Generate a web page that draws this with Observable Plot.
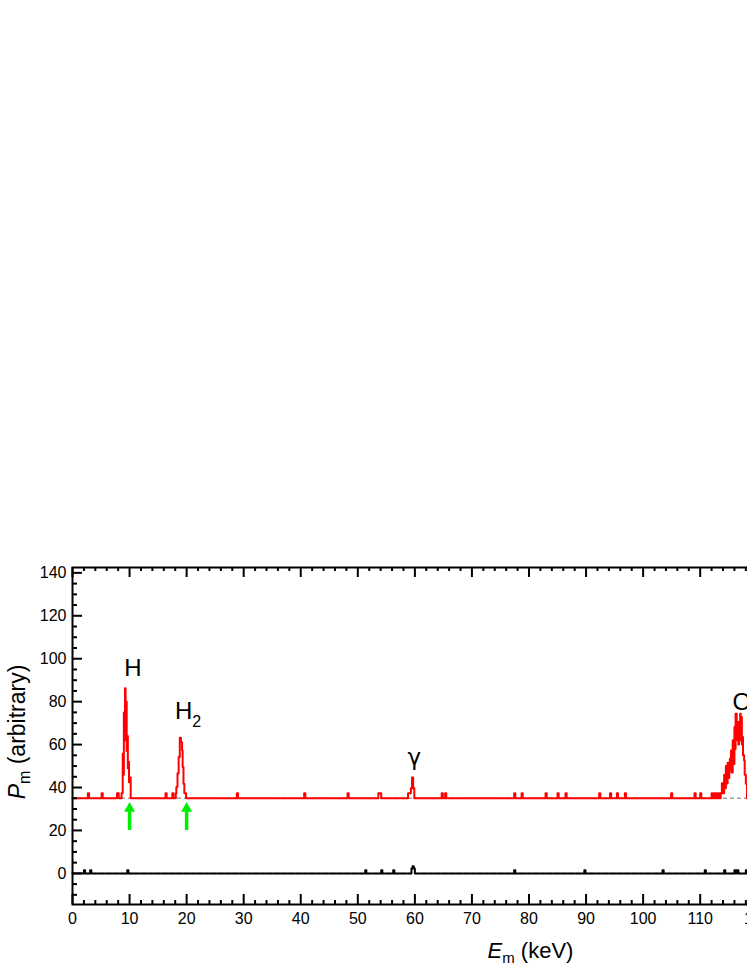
<!DOCTYPE html>
<html><head><meta charset="utf-8">
<script src="https://cdn.jsdelivr.net/npm/d3@7"></script>
<script src="https://cdn.jsdelivr.net/npm/@observablehq/plot@0.6"></script>
<style>
html,body{margin:0;padding:0;overflow:hidden;background:#fff;}
#chart{width:747px;height:967px;overflow:hidden;}
#chart svg{max-width:none !important;height:967px !important;width:1005px !important;display:block;}
</style></head><body><div id="chart"></div>
<script>
// ---- data ----
// red spectrum: step points (bin start energy in keV, P_m value), baseline 35
const redEnergy = [0, 2.7, 2.9, 5.1, 5.3, 7.8, 8.1,
  8.6, 8.8, 8.9, 9.0, 9.1, 9.2, 9.3, 9.4, 9.5, 9.6, 9.7, 9.8, 9.9, 10.0, 10.2,
  16.3, 16.5, 17.5, 17.7,
  18.1, 18.2, 18.4, 18.6, 18.8, 19.0, 19.2, 19.3, 19.45, 19.6, 19.9,
  28.8, 29.0, 40.6, 40.8, 48.2, 48.4, 53.6, 54.1,
  58.8, 59.3, 59.5, 59.7, 59.9,
  64.7, 64.9, 65.3, 65.5, 77.4, 77.6, 78.7, 78.9, 82.9, 83.1, 85.0, 85.2, 86.4, 86.6,
  92.3, 92.5, 94.2, 94.4, 95.4, 95.6, 96.8, 97.0, 104.9, 105.1, 109.0, 109.2, 110.0, 110.2,
  112.0, 112.2, 112.5, 112.7, 112.9, 113.1, 113.3, 113.5, 113.6,
  113.8, 114.0, 114.2, 114.3, 114.5, 114.6, 114.8, 114.9, 115.1, 115.2, 115.4, 115.5,
  115.7, 115.8, 116.0, 116.1, 116.2, 116.4, 116.5, 116.7, 116.8, 116.9, 117.0, 117.1,
  117.2, 117.3, 117.4, 117.5, 117.7, 117.8, 118.0, 118.2, 160];
const redSignal = [35, 37.3, 35, 37.3, 35, 37.3, 35,
  37.3, 55.7, 46, 75, 62, 86.2, 74, 80, 57, 64, 49, 52, 42.5, 44.7, 35,
  37.3, 35, 37.3, 35,
  37.3, 40.2, 46.6, 54.2, 63.2, 61.1, 57.3, 49.5, 41.8, 37.3, 35,
  37.3, 35, 37.3, 35, 37.3, 35, 37.3, 35,
  37.3, 39.7, 44.7, 39.7, 35,
  37.3, 35, 37.3, 35, 37.3, 35, 37.3, 35, 37.3, 35, 37.3, 35, 37.3, 35,
  37.3, 35, 37.3, 35, 37.3, 35, 37.3, 35, 37.3, 35, 37.3, 35, 37.3, 35,
  37.3, 35, 37.3, 35, 37.3, 35, 37.3, 35, 37.3,
  42, 37.3, 46, 39.7, 50, 41.9, 51.5, 44.4, 48, 53.4, 57.3, 47,
  62, 51, 68.2, 58, 74.4, 62, 70.5, 60, 67.4, 62, 74.4, 64,
  72.8, 60, 63.5, 55, 52.6, 46, 41.7, 35, 35];

// black spectrum: step points, baseline 0
const blackEnergy = [0, 2.0, 2.2, 3.1, 3.3, 9.6, 9.8, 51.3, 51.5, 54.1, 54.3, 56.2, 56.4,
  59.4, 59.6, 59.8, 60.0, 77.4, 77.6, 89.7, 89.9, 103.4, 103.6, 110.8, 111.0,
  114.2, 114.4, 116.0, 116.2, 116.4, 116.7, 118.0, 118.2, 160];
const blackSignal = [0, 1.4, 0, 1.4, 0, 1.4, 0, 1.4, 0, 1.4, 0, 1.4, 0,
  2.3, 3.3, 2.3, 0, 1.4, 0, 1.4, 0, 1.4, 0, 1.4, 0,
  1.4, 0, 1.4, 0, 1.4, 0, 1.4, 0, 0];

const baselines = [35, 0];

// peak annotations
const peakNames = ["H", "H", "γ", "O"];
const peakLabelE = [10.6, 19.5, 59.9, 117.3];
const peakLabelP = [91.8, 72.0, 50.5, 76.1];
const peakFonts = ["'Liberation Sans', Arial, sans-serif", "'Liberation Sans', Arial, sans-serif", "'DejaVu Sans', sans-serif", "'Liberation Sans', Arial, sans-serif"];
const subscriptText = ["2"];
const subscriptE = [21.0];
const subscriptP = [68.4];

// green arrows (energy, from, to)
const arrowE = [10, 20];
const arrowFrom = 20;
const arrowTo = 33.2;

// axes
const xDomain = [0, 160];
const yDomain = [-14.5, 142.5];
const xTickLabels = [0, 10, 20, 30, 40, 50, 60, 70, 80, 90, 100, 110, 120, 130, 140, 150, 160];
const yTickLabels = [0, 20, 40, 60, 80, 100, 120, 140];
const xMinorTicks = d3.range(0, 161, 2).filter(v => v % 10 !== 0);
const yMinorTicks = d3.range(-10, 143, 5).filter(v => v % 20 !== 0);

// ---- layout ----
const W = 1005, H = 967, mL = 72, mR = 20, mT = 567, mB = 63;
const kx = (W - mL - mR) / (xDomain[1] - xDomain[0]);
const ky = (H - mT - mB) / (yDomain[1] - yDomain[0]);
const majorLen = 10, minorLenX = 4, minorLenY = 5;
const green = "#00ee00";
const sans = "'Liberation Sans', Arial, sans-serif";

const red = redEnergy.map((E, i) => ({E, P: redSignal[i]}));
const black = blackEnergy.map((E, i) => ({E, P: blackSignal[i]}));
const peaks = peakNames.map((name, i) => ({name, E: peakLabelE[i], P: peakLabelP[i], font: peakFonts[i]}));

// arrow head: d3 triangle symbol, tip at -2a, base at +a
const headR = 4.1;
const headA = Math.sqrt(Math.PI * headR * headR / (3 * Math.sqrt(3)));
const headCenter = arrowTo - 2 * headA / ky;
const headBase = headCenter - headA / ky;

const plot = Plot.plot({
  width: W, height: H,
  marginLeft: mL, marginRight: mR, marginTop: mT, marginBottom: mB,
  x: {domain: xDomain, axis: null},
  y: {domain: yDomain, axis: null},
  style: {fontFamily: sans, background: "white", color: "black", maxWidth: "none"},
  marks: [
    Plot.ruleY(baselines, {y: d => d, stroke: "#a0a0a0", strokeWidth: 1.5, strokeDasharray: "4,3"}),
    Plot.line(black, {x: "E", y: "P", curve: "step-after", stroke: "black", strokeWidth: 2}),
    Plot.line(red, {x: "E", y: "P", curve: "step-after", stroke: "#ff0000", strokeWidth: 2}),
    Plot.ruleX(arrowE, {x: d => d, y1: arrowFrom, y2: headBase + 0.3, stroke: green, strokeWidth: 3.5, strokeLinecap: "butt"}),
    Plot.dot(arrowE, {x: d => d, y: headCenter, symbol: "triangle", r: headR, fill: green, stroke: null}),
    Plot.text(peaks.filter(p => p.name !== "γ"), {x: "E", y: "P", text: "name", fontSize: 24, lineAnchor: "bottom"}),
    Plot.text(peaks.filter(p => p.name === "γ"), {x: "E", y: "P", text: "name", fontSize: 23, lineAnchor: "bottom", fontFamily: "'DejaVu Sans', sans-serif"}),
    Plot.text(subscriptText, {x: (d, i) => subscriptE[i], y: (d, i) => subscriptP[i], text: d => d, fontSize: 16, textAnchor: "start", lineAnchor: "bottom"}),
    Plot.frame({stroke: "black", strokeWidth: 2}),
    // bottom ticks (inward)
    Plot.ruleX(xTickLabels, {x: d => d, y1: yDomain[0], y2: yDomain[0] + majorLen / ky, stroke: "black", strokeWidth: 2, strokeLinecap: "butt"}),
    Plot.ruleX(xMinorTicks, {x: d => d, y1: yDomain[0], y2: yDomain[0] + minorLenX / ky, stroke: "black", strokeWidth: 2, strokeLinecap: "butt"}),
    // top ticks (inward)
    Plot.ruleX(xTickLabels, {x: d => d, y1: yDomain[1], y2: yDomain[1] - majorLen / ky, stroke: "black", strokeWidth: 2, strokeLinecap: "butt"}),
    Plot.ruleX(xMinorTicks, {x: d => d, y1: yDomain[1], y2: yDomain[1] - minorLenX / ky, stroke: "black", strokeWidth: 2, strokeLinecap: "butt"}),
    // left ticks (inward)
    Plot.ruleY(yTickLabels, {y: d => d, x1: xDomain[0], x2: xDomain[0] + majorLen / kx, stroke: "black", strokeWidth: 2, strokeLinecap: "butt"}),
    Plot.ruleY(yMinorTicks, {y: d => d, x1: xDomain[0], x2: xDomain[0] + minorLenY / kx, stroke: "black", strokeWidth: 2, strokeLinecap: "butt"}),
    // tick labels
    Plot.text(xTickLabels, {x: d => d, y: yDomain[0], dy: 8, text: d => String(d), lineAnchor: "top", fontSize: 16}),
    Plot.text(yTickLabels, {x: xDomain[0], y: d => d, dx: -6, text: d => String(d), textAnchor: "end", fontSize: 16})
  ]
});

// axis titles with italic symbol and subscript
const svg = d3.select(plot);
const xt = svg.append("text")
  .attr("x", mL + (W - mL - mR) / 2 + 2).attr("y", 958)
  .attr("text-anchor", "middle").attr("font-size", 22)
  .attr("font-family", sans).attr("fill", "black");
xt.append("tspan").attr("font-style", "italic").text("E");
xt.append("tspan").attr("font-size", 15).attr("dy", 5).text("m");
xt.append("tspan").attr("dy", -5).text(" (keV)");

const yt = svg.append("text")
  .attr("transform", `translate(25,732) rotate(-90)`)
  .attr("text-anchor", "middle").attr("font-size", 23)
  .attr("font-family", sans).attr("fill", "black");
yt.append("tspan").attr("font-style", "italic").text("P");
yt.append("tspan").attr("font-size", 16).attr("dy", 5).text("m");
yt.append("tspan").attr("dy", -5).text(" (arbitrary)");

document.getElementById("chart").appendChild(plot);
</script>
</body></html>
